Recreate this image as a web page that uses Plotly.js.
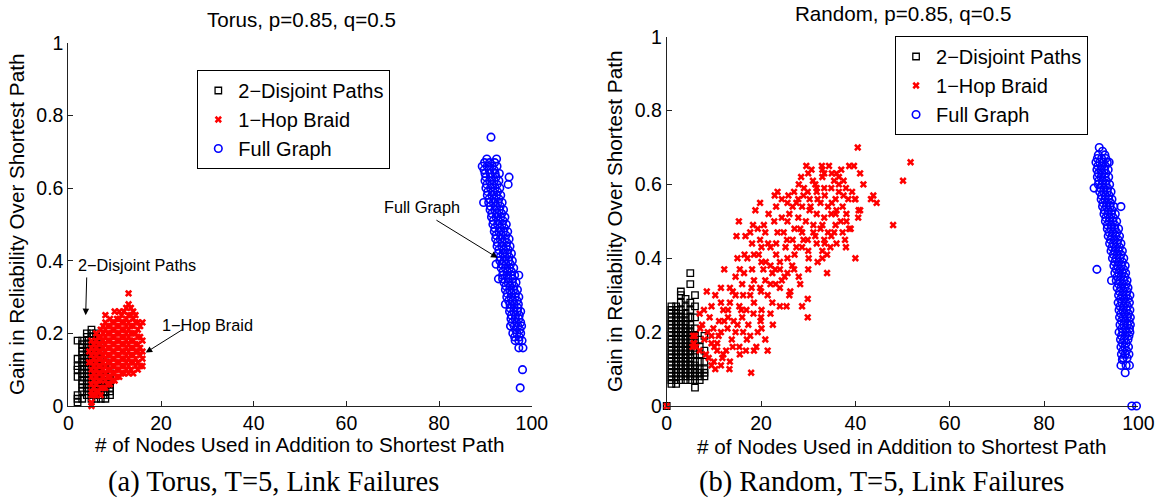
<!DOCTYPE html>
<html>
<head>
<meta charset="utf-8">
<script src="https://cdn.plot.ly/plotly-3.0.1.min.js"></script>
<style>html,body{margin:0;padding:0;background:#fff;}#chart{width:1160px;height:498px;}</style>
</head>
<body>
<div id="chart"></div>
<script>
// ---------- Torus, p=0.85, q=0.5 ----------
var torusDisjointX = [2,2,2,2,2,2,2,2, 3,3,3,3,3,3,3,3,3,3,3,3,3,3,3,3, 4,4,4,4,4,4,4,4,4,4,4,4,4,4,4,4,4,4, 5,5,5,5,5,5,5,5,5,5,5,5,5,5,5,5,5,5,5,5, 6,6,6,6,6,6,6,6,6,6,6,6,6,6, 7,7,7,7,7,7,7,7,7,7,7, 8,8,8,8,8,8,8,8,8, 9,9,9,9,9,9];
var torusDisjointY = [0.01,0.02,0.03,0.08,0.10,0.11,0.13,0.18, 0.02,0.04,0.05,0.06,0.07,0.08,0.09,0.10,0.11,0.12,0.13,0.14,0.15,0.16,0.17,0.18, 0.03,0.04,0.05,0.06,0.07,0.08,0.09,0.10,0.11,0.12,0.13,0.14,0.15,0.16,0.17,0.18,0.19,0.20, 0.02,0.03,0.04,0.05,0.06,0.07,0.08,0.09,0.10,0.11,0.12,0.13,0.14,0.15,0.16,0.17,0.18,0.19,0.20,0.21, 0.02,0.03,0.04,0.05,0.06,0.07,0.08,0.10,0.12,0.14,0.16,0.18,0.19,0.20, 0.02,0.03,0.04,0.05,0.06,0.07,0.09,0.11,0.13,0.15,0.17, 0.02,0.03,0.04,0.05,0.06,0.07,0.08,0.10,0.12, 0.03,0.04,0.05,0.06,0.07,0.09];

var torusBraidX = [4.5,4.5, 5,5,5,5,5,5,5,5,5,5,5, 5.5,5.5,5.5,5.5,5.5,5.5,5.5,5.5, 6,6,6,6,6,6,6,6,6,6, 6.5,6.5,6.5,6.5,6.5,6.5,6.5,6.5, 7,7,7,7,7,7,7,7,7,7, 7.5,7.5,7.5,7.5,7.5,7.5,7.5,7.5,7.5, 8,8,8,8,8,8,8,8,8,8,8, 8.5,8.5,8.5,8.5,8.5,8.5,8.5,8.5,8.5, 9,9,9,9,9,9,9,9,9,9, 9.5,9.5,9.5,9.5,9.5,9.5,9.5,9.5,9.5, 10,10,10,10,10,10,10,10,10,10, 10.5,10.5,10.5,10.5,10.5,10.5,10.5,10.5,10.5, 11,11,11,11,11,11,11,11,11,11, 11.5,11.5,11.5,11.5,11.5,11.5,11.5,11.5,11.5, 12,12,12,12,12,12,12,12,12, 12.5,12.5,12.5,12.5,12.5,12.5,12.5,12.5,12.5, 13,13,13,13,13,13,13,13,13,13,13, 13.5,13.5,13.5,13.5,13.5,13.5,13.5,13.5,13.5, 14,14,14,14,14,14,14,14,14, 14.5,14.5,14.5,14.5,14.5,14.5,14.5, 15,15,15,15,15,15,15, 15.5,15.5,15.5,15.5,15.5, 16,16,16,16,16];
var torusBraidY = [0.12,0.15, 0.00,0.01,0.03,0.04,0.06,0.08,0.10,0.12,0.14,0.16,0.18, 0.03,0.05,0.07,0.09,0.11,0.13,0.15,0.17, 0.03,0.04,0.06,0.08,0.10,0.12,0.14,0.16,0.18,0.20, 0.04,0.07,0.09,0.11,0.13,0.15,0.17,0.19, 0.03,0.05,0.07,0.09,0.11,0.13,0.15,0.17,0.19,0.21, 0.05,0.08,0.10,0.12,0.14,0.16,0.18,0.20,0.22, 0.05,0.07,0.09,0.11,0.13,0.15,0.17,0.19,0.21,0.23,0.25, 0.06,0.08,0.10,0.12,0.14,0.16,0.18,0.20,0.22, 0.06,0.08,0.10,0.12,0.14,0.16,0.18,0.20,0.22,0.24, 0.07,0.09,0.11,0.13,0.15,0.17,0.19,0.21,0.23, 0.07,0.09,0.11,0.13,0.15,0.17,0.19,0.21,0.23,0.26, 0.08,0.10,0.12,0.14,0.16,0.18,0.20,0.22,0.24, 0.08,0.10,0.12,0.14,0.16,0.18,0.20,0.22,0.24,0.26, 0.09,0.11,0.13,0.15,0.17,0.19,0.21,0.23,0.25, 0.09,0.11,0.13,0.15,0.17,0.19,0.21,0.23,0.26, 0.10,0.12,0.14,0.16,0.18,0.20,0.22,0.24,0.27, 0.09,0.11,0.13,0.15,0.17,0.19,0.21,0.23,0.25,0.28,0.31, 0.10,0.12,0.14,0.16,0.18,0.20,0.22,0.25,0.27, 0.09,0.12,0.14,0.16,0.18,0.20,0.22,0.24,0.26, 0.11,0.13,0.15,0.17,0.20,0.23,0.25, 0.10,0.12,0.15,0.17,0.19,0.21,0.23, 0.11,0.14,0.16,0.19,0.22, 0.11,0.13,0.15,0.18,0.23];

var torusFullX = [91.2, 90.3,92.4, 89.8,90.9,92.0, 89.3,90.4,91.5,92.5, 89.7,90.8,91.9, 89.9,91.0,92.1,93.0, 90.1,91.2,92.3,95.1, 89.9,90.9,91.9,92.9, 90.3,91.4,92.5,94.9, 90.1,91.1,92.1,93.1, 90.5,91.6,92.6, 90.4,91.4,92.4,93.3, 90.8,91.9,92.9, 89.6,90.7,91.7,92.7,93.6, 91.1,92.2,93.2, 91.0,92.0,93.0,93.9, 91.4,92.5,93.5, 91.3,92.3,93.3,94.2, 91.7,92.8,93.8, 91.6,92.6,93.6,94.5, 92.0,93.1,94.1, 91.9,92.9,93.9,94.8, 92.3,93.4,94.4, 92.2,93.2,94.2,95.1, 92.6,93.6,94.6, 92.5,93.5,94.5,95.3, 92.9,93.9,94.9, 92.8,93.8,94.7,95.6, 93.2,94.2,95.1, 93.1,94.0,95.0,95.8, 92.3,93.5,94.4,95.4, 93.4,94.3,95.2,96.1, 93.8,94.7,95.6, 93.7,94.6,95.5,96.3,97.2, 92.8,93.7,94.9,95.9, 94.0,94.9,95.8,96.6, 94.4,95.3,96.2, 94.3,95.2,96.1,96.9, 94.7,95.6,96.5, 94.6,95.5,96.4,97.2, 95.0,95.9,96.8, 94.3,95.3,96.2,97.1, 95.3,96.2,97.0, 95.2,96.1,96.9,97.6, 95.6,96.5,97.3, 95.5,96.4,97.2, 95.8,96.7,97.6, 95.4,96.2,97.0,97.8, 96.5,97.4, 95.9,96.8,97.6, 96.3,97.3, 96.4,97.2,97.9, 97.2,98.1, 98.0, 97.5];
var torusFullY = [0.74, 0.68,0.68, 0.67,0.67,0.67, 0.66,0.66,0.66,0.66, 0.65,0.65,0.65, 0.64,0.64,0.64,0.64, 0.63,0.63,0.63,0.63, 0.62,0.62,0.62,0.62, 0.61,0.61,0.61,0.61, 0.60,0.60,0.60,0.60, 0.59,0.59,0.59, 0.58,0.58,0.58,0.58, 0.57,0.57,0.57, 0.56,0.56,0.56,0.56,0.56, 0.55,0.55,0.55, 0.54,0.54,0.54,0.54, 0.53,0.53,0.53, 0.52,0.52,0.52,0.52, 0.51,0.51,0.51, 0.50,0.50,0.50,0.50, 0.49,0.49,0.49, 0.48,0.48,0.48,0.48, 0.47,0.47,0.47, 0.46,0.46,0.46,0.46, 0.45,0.45,0.45, 0.44,0.44,0.44,0.44, 0.43,0.43,0.43, 0.42,0.42,0.42,0.42, 0.41,0.41,0.41, 0.40,0.40,0.40,0.40, 0.39,0.39,0.39,0.39, 0.38,0.38,0.38,0.38, 0.37,0.37,0.37, 0.36,0.36,0.36,0.36,0.36, 0.35,0.35,0.35,0.35, 0.34,0.34,0.34,0.34, 0.33,0.33,0.33, 0.32,0.32,0.32,0.32, 0.31,0.31,0.31, 0.30,0.30,0.30,0.30, 0.29,0.29,0.29, 0.28,0.28,0.28,0.28, 0.27,0.27,0.27, 0.26,0.26,0.26,0.26, 0.25,0.25,0.25, 0.24,0.24,0.24, 0.23,0.23,0.23, 0.22,0.22,0.22,0.22, 0.21,0.21, 0.20,0.20,0.20, 0.19,0.19, 0.18,0.18,0.18, 0.16,0.16, 0.10, 0.05];

// ---------- Random, p=0.85, q=0.5 ----------
var randomDisjointX = [0, 1,1,1,1,1,1,1,1,1,1,1,1,1,1,1,1,1,1,1,1,1,1, 2,2,2,2,2,2,2,2,2,2,2,2,2,2,2,2,2,2,2,2,2,2, 3,3,3,3,3,3,3,3,3,3,3,3,3,3,3,3,3,3,3,3,3,3,3, 4,4,4,4,4,4,4,4,4,4,4,4,4,4,4,4,4,4,4,4,4, 5,5,5,5,5,5,5,5,5,5,5,5,5,5,5,5,5,5,5,5,5, 6,6,6,6,6,6,6,6,6,6,6,6,6,6,6, 7,7,7,7,7,7,7,7, 8,8,8,8,8,8];
var randomDisjointY = [0.00, 0.06,0.07,0.08,0.09,0.10,0.11,0.12,0.13,0.14,0.15,0.16,0.17,0.18,0.19,0.20,0.21,0.22,0.23,0.24,0.25,0.26,0.27, 0.06,0.07,0.08,0.09,0.10,0.11,0.12,0.13,0.14,0.15,0.16,0.17,0.18,0.19,0.20,0.21,0.22,0.23,0.24,0.25,0.26,0.27, 0.07,0.08,0.09,0.10,0.11,0.12,0.13,0.14,0.15,0.16,0.17,0.18,0.19,0.20,0.21,0.22,0.23,0.24,0.25,0.26,0.28,0.30,0.31, 0.07,0.08,0.09,0.10,0.11,0.12,0.13,0.14,0.15,0.16,0.17,0.18,0.19,0.20,0.21,0.22,0.23,0.24,0.25,0.27,0.29, 0.07,0.08,0.09,0.10,0.11,0.12,0.13,0.14,0.15,0.16,0.17,0.18,0.19,0.20,0.21,0.22,0.24,0.26,0.28,0.33,0.36, 0.05,0.07,0.08,0.09,0.10,0.11,0.12,0.14,0.15,0.17,0.19,0.21,0.24,0.27,0.30, 0.07,0.08,0.09,0.10,0.12,0.14,0.16,0.18, 0.08,0.09,0.10,0.12,0.15,0.19];

var randomBraidX = [0, 5.5,5.8,5.6, 40.5,51.7,50.1,48.0,40.0,34.0,29.9,29.9,28.7,28.3,26.2,24.0,25.4,21.4,17.9,13.3,11.5,8.9,10.1,7.0,8.5,12.2,15.3,14.8,16.7,18.3,19.8,18.8,20.6,22.9,23.5,25.8,28.5,29.6,30.7,32.9,34.4,33.4,31.5,35.5,37.0,37.5,38.7,39.7,41.0,41.7,39.9,40.7,40.6,43.3,44.5,38.1,37.8,34.7,33.0,30.1,26.6,19.8,17.1,15.5,15.0,18.5,20.9,19.8,21.4,23.1,24.4,22.4,22.0,19.9,18.4,17.3,15.8,13.4,11.5,11.1,14.2,12.9,11.5,13.8,15.4,16.8,18.5,15.5,13.4,11.8,10.7,9.5,8.7,7.5,9.1,13.4,14.6,16.4,18.1,16.5,18.5,20.1,22.0,23.2,24.8,25.6,24.4,27.9,27.1,28.7,29.9,31.8,33.0,28.7,27.1,25.6,24.0,22.0,24.0,25.6,22.4,20.5, 30.3,31.8,32.6,34.2,35.8,36.5,37.3,34.9,33.4,31.8,30.3,28.7,27.9,26.7,29.5,31.1,32.6,34.2,35.8,36.9,38.1,38.5,39.3,36.5,34.9,33.4,31.8,29.9,29.1,25.6,24.4,23.2,21.6,22.8,20.9,19.3,17.7,18.1,20.1,23.2,25.2,26.7,28.3,31.1,33.4,34.9,33.0,35.8,37.3, 6.0,5.7,6.2,7.1,8.3,9.5,10.3,12.6,10.7,12.2,13.0,14.6,16.2,17.7,15.4,16.9,18.5,20.1,16.2,17.7,19.3,20.1,20.9,14.6,9.9,7.9,9.5,10.3,11.5, 43.8,38.7, 26.0,27.5,29.0,30.5,32.0,33.5,35.0,36.0,37.5,31.0,33.0,35.0,36.5,28.0,27.0,29.0,31.5,33.5,35.5,30.0,27.5,25.5,23.5,21.5,19.5,21.0,23.0,25.0,27.0,24.0,22.0,20.0,18.0,16.0,14.0,12.0,13.0,15.0,17.0,19.0,11.0,9.5,8.0,7.0,10.0,12.0,14.0,16.0,20.0,22.5,26.0,28.0,30.0,32.0,34.0,36.0,38.0,39.0,40.0,41.0,38.0,36.0,33.0,30.0];
var randomBraidY = [0.00, 0.16,0.17,0.19, 0.70,0.66,0.61,0.49,0.40,0.36,0.29,0.24,0.27,0.33,0.31,0.27,0.27,0.15,0.09,0.10,0.11,0.13,0.16,0.25,0.31,0.37,0.50,0.46,0.46,0.49,0.55,0.53,0.49,0.57,0.58,0.57,0.62,0.65,0.64,0.65,0.65,0.63,0.60,0.61,0.64,0.61,0.65,0.65,0.63,0.60,0.56,0.53,0.51,0.56,0.55,0.50,0.45,0.43,0.40,0.40,0.38,0.45,0.40,0.37,0.40,0.34,0.34,0.32,0.30,0.33,0.34,0.28,0.25,0.23,0.25,0.22,0.26,0.28,0.28,0.23,0.23,0.21,0.20,0.18,0.16,0.15,0.15,0.14,0.12,0.13,0.15,0.17,0.20,0.22,0.24,0.32,0.35,0.36,0.37,0.41,0.41,0.39,0.43,0.44,0.47,0.50,0.51,0.51,0.48,0.47,0.45,0.44,0.42,0.43,0.41,0.40,0.39,0.38,0.37,0.36,0.36,0.37, 0.56,0.58,0.55,0.54,0.56,0.58,0.54,0.52,0.51,0.52,0.53,0.54,0.56,0.54,0.50,0.49,0.48,0.47,0.49,0.50,0.52,0.56,0.58,0.60,0.59,0.59,0.59,0.58,0.59,0.55,0.56,0.54,0.52,0.50,0.47,0.48,0.47,0.44,0.43,0.41,0.43,0.45,0.48,0.47,0.45,0.46,0.49,0.52,0.47, 0.19,0.17,0.16,0.21,0.14,0.11,0.10,0.15,0.17,0.23,0.26,0.30,0.30,0.30,0.27,0.26,0.28,0.26,0.20,0.19,0.20,0.21,0.18,0.20,0.21,0.26,0.27,0.30,0.32, 0.57,0.48, 0.52,0.55,0.57,0.54,0.56,0.57,0.55,0.53,0.57,0.61,0.62,0.63,0.62,0.60,0.58,0.45,0.46,0.44,0.47,0.42,0.43,0.45,0.47,0.44,0.41,0.39,0.37,0.35,0.37,0.32,0.33,0.31,0.32,0.33,0.31,0.26,0.24,0.22,0.18,0.16,0.19,0.19,0.18,0.15,0.12,0.14,0.16,0.24,0.24,0.22,0.30,0.35,0.37,0.39,0.41,0.44,0.43,0.48,0.56,0.53,0.59,0.63,0.64,0.63];

var randomFullX = [91.7, 92.4, 91.5,92.9, 91.3,92.2,93.1, 91.0,91.8,92.6,93.4,93.8, 91.4,92.2,93.0, 91.2,92.0,92.8,93.6, 91.5,92.3,93.1, 91.3,92.1,92.9,93.7, 91.6,92.4,93.2, 91.5,92.3,93.1,93.9, 90.6,91.9,92.7,93.5, 91.8,92.6,93.4,94.2, 92.2,93.0,93.8, 92.1,92.9,93.7,94.4, 92.5,93.3,94.1, 92.4,93.2,94.0,94.8,96.3, 92.8,93.6,94.4, 92.7,93.5,94.3,95.1, 93.1,93.9,94.7, 93.0,93.8,94.6,95.4, 93.4,94.2,95.0, 93.4,94.2,95.0,95.8, 93.8,94.6,95.4, 93.6,94.4,95.2,96.0, 94.1,94.9,95.7, 93.9,94.7,95.5,96.3, 94.4,95.2,96.0, 94.2,95.0,95.8,96.6, 94.7,95.5,96.3, 94.5,95.3,96.1,96.9, 95.0,95.8,96.6, 94.8,95.6,96.4,97.2, 91.2,95.3,96.1,96.9, 95.0,95.8,96.6,97.3, 95.5,96.3,97.1, 94.3,95.3,96.1,96.9,97.6, 95.8,96.6,97.4, 95.5,96.3,97.1,97.8, 96.0,96.8,97.6, 95.8,96.6,97.4,98.2, 96.2,97.0,97.8, 95.7,96.5,97.3,98.1, 96.1,96.9,97.7, 95.9,96.7,97.5,98.2, 96.3,97.1,97.9, 96.0,96.8,97.6,98.3, 96.4,97.2,98.0, 96.1,96.9,97.7,98.3, 96.5,97.3,98.1, 95.9,96.7,97.5,98.2, 96.4,97.2,98.0, 96.2,97.0,97.8, 96.6,97.4, 96.3,97.1,97.9, 96.7,97.5, 96.4,97.2,98.0, 96.8,97.6, 96.6, 96.3,97.4,98.1, 97.2, 98.6,99.6];
var randomFullY = [0.70, 0.69, 0.68,0.68, 0.67,0.67,0.67, 0.66,0.66,0.66,0.66,0.66, 0.65,0.65,0.65, 0.64,0.64,0.64,0.64, 0.63,0.63,0.63, 0.62,0.62,0.62,0.62, 0.61,0.61,0.61, 0.60,0.60,0.60,0.60, 0.59,0.59,0.59,0.59, 0.58,0.58,0.58,0.58, 0.57,0.57,0.57, 0.56,0.56,0.56,0.56, 0.55,0.55,0.55, 0.54,0.54,0.54,0.54,0.54, 0.53,0.53,0.53, 0.52,0.52,0.52,0.52, 0.51,0.51,0.51, 0.50,0.50,0.50,0.50, 0.49,0.49,0.49, 0.48,0.48,0.48,0.48, 0.47,0.47,0.47, 0.46,0.46,0.46,0.46, 0.45,0.45,0.45, 0.44,0.44,0.44,0.44, 0.43,0.43,0.43, 0.42,0.42,0.42,0.42, 0.41,0.41,0.41, 0.40,0.40,0.40,0.40, 0.39,0.39,0.39, 0.38,0.38,0.38,0.38, 0.37,0.37,0.37,0.37, 0.36,0.36,0.36,0.36, 0.35,0.35,0.35, 0.34,0.34,0.34,0.34,0.34, 0.33,0.33,0.33, 0.32,0.32,0.32,0.32, 0.31,0.31,0.31, 0.30,0.30,0.30,0.30, 0.29,0.29,0.29, 0.28,0.28,0.28,0.28, 0.27,0.27,0.27, 0.26,0.26,0.26,0.26, 0.25,0.25,0.25, 0.24,0.24,0.24,0.24, 0.23,0.23,0.23, 0.22,0.22,0.22,0.22, 0.21,0.21,0.21, 0.20,0.20,0.20,0.20, 0.19,0.19,0.19, 0.18,0.18,0.18, 0.17,0.17, 0.16,0.16,0.16, 0.15,0.15, 0.14,0.14,0.14, 0.13,0.13, 0.125, 0.11,0.11,0.11, 0.09, 0.00,0.00];

var seriesNames = ['2\u2212Disjoint Paths', '1\u2212Hop Braid', 'Full Graph'];
var xTicks = [0,20,40,60,80,100];
var yTicks = [0,0.2,0.4,0.6,0.8,1];

var SANS = 'Liberation Sans, Arial, Helvetica, sans-serif';
var SERIF = 'Liberation Serif, Times New Roman, serif';

var sq = {symbol:'square-open', size:6.5, color:'#000', line:{color:'#000', width:1.3}};
var xm = {symbol:'x', size:6.5, color:'#ff0000', line:{width:0}};
var ci = {symbol:'circle-open', size:7.5, color:'#0000ff', line:{color:'#0000ff', width:1.6}};

function tr(x, y, name, marker, xa, ya, leg) {
  return {x:x, y:y, name:name, type:'scatter', mode:'markers', marker:marker,
          xaxis:xa, yaxis:ya, legend:leg, cliponaxis:false, hoverinfo:'skip'};
}

var data = [
  tr(torusDisjointX, torusDisjointY, seriesNames[0], sq, 'x', 'y', 'legend'),
  tr(torusBraidX, torusBraidY, seriesNames[1], xm, 'x', 'y', 'legend'),
  tr(torusFullX, torusFullY, seriesNames[2], ci, 'x', 'y', 'legend'),
  tr(randomDisjointX, randomDisjointY, seriesNames[0], sq, 'x2', 'y2', 'legend2'),
  tr(randomBraidX, randomBraidY, seriesNames[1], xm, 'x2', 'y2', 'legend2'),
  tr(randomFullX, randomFullY, seriesNames[2], ci, 'x2', 'y2', 'legend2')
];

function xax(dom, anchor) {
  return {domain:dom, anchor:anchor, range:[0,100], tickvals:xTicks, ticktext:xTicks.map(String),
    ticks:'inside', ticklen:5, tickcolor:'#222', tickwidth:1, showline:true, linecolor:'#222', linewidth:1,
    showgrid:false, zeroline:false, tickfont:{family:SANS, size:19.5, color:'#000'}, fixedrange:true};
}
function yax(dom, anchor) {
  return {domain:dom, anchor:anchor, range:[0,1], tickvals:yTicks, ticktext:yTicks.map(String),
    ticks:'inside', ticklen:5, tickcolor:'#222', tickwidth:1, showline:true, linecolor:'#222', linewidth:1,
    showgrid:false, zeroline:false, tickfont:{family:SANS, size:19.5, color:'#000'}, fixedrange:true,
    title:{text:'Gain in Reliability Over Shortest Path', font:{family:SANS, size:20.7, color:'#000'}, standoff:6}};
}

function legendBox(x, y) {
  return {x:x, y:y, xanchor:'left', yanchor:'top', bgcolor:'#fff', bordercolor:'#000', borderwidth:1,
    font:{family:SANS, size:20, color:'#000'}, tracegroupgap:0, itemclick:false, itemdoubleclick:false};
}

function txt(x, y, s, size, fam) {
  return {xref:'paper', yref:'paper', x:x, y:y, text:s, showarrow:false, xanchor:'center', yanchor:'middle',
    font:{family:fam, size:size, color:'#000'}};
}
function dtxt(x, y, s) {
  return {xref:'x', yref:'y', x:x, y:y, text:s, showarrow:false, xanchor:'center', yanchor:'middle',
    font:{family:SANS, size:16.3, color:'#000'}};
}
function arrow(hx, hy, tx, ty) {
  return {xref:'x', yref:'y', axref:'x', ayref:'y', x:hx, y:hy, ax:tx, ay:ty, text:'', showarrow:true,
    arrowhead:2, arrowsize:1.3, arrowwidth:1, arrowcolor:'#000', standoff:0, startstandoff:0};
}

var layout = {
  width:1160, height:498, margin:{l:0, r:0, t:0, b:0}, paper_bgcolor:'#fff', plot_bgcolor:'#fff',
  showlegend:true,
  xaxis: xax([0.05888, 0.45845], 'y'),
  yaxis: yax([0.18474, 0.91426], 'x'),
  xaxis2: xax([0.57474, 0.98138], 'y2'),
  yaxis2: yax([0.18474, 0.92631], 'x2'),
  legend: legendBox(0.1701, 0.8594),
  legend2: legendBox(0.7716, 0.9277),
  annotations: [
    txt(0.2595, 0.9618, 'Torus, p=0.85, q=0.5', 20.6, SANS),
    txt(0.7782, 0.9733, 'Random, p=0.85, q=0.5', 20.6, SANS),
    txt(0.2578, 0.1074, '# of Nodes Used in Addition to Shortest Path', 20.7, SANS),
    txt(0.7773, 0.1044, '# of Nodes Used in Addition to Shortest Path', 20.7, SANS),
    txt(0.2362, 0.0321, '(a) Torus, T=5, Link Failures', 28.5, SERIF),
    txt(0.7598, 0.0321, '(b) Random, T=5, Link Failures', 28.5, SERIF),
    arrow(92.6, 0.408, 79.1, 0.514),
    arrow(3.75, 0.250, 3.98, 0.358),
    arrow(16.7, 0.147, 25.1, 0.214),
    dtxt(76.3, 0.549, 'Full Graph'),
    dtxt(14.8, 0.388, '2\u2212Disjoint Paths'),
    dtxt(30.0, 0.223, '1\u2212Hop Braid')
  ]
};

Plotly.newPlot('chart', data, layout, {staticPlot:true, displayModeBar:false});
</script>
</body>
</html>
